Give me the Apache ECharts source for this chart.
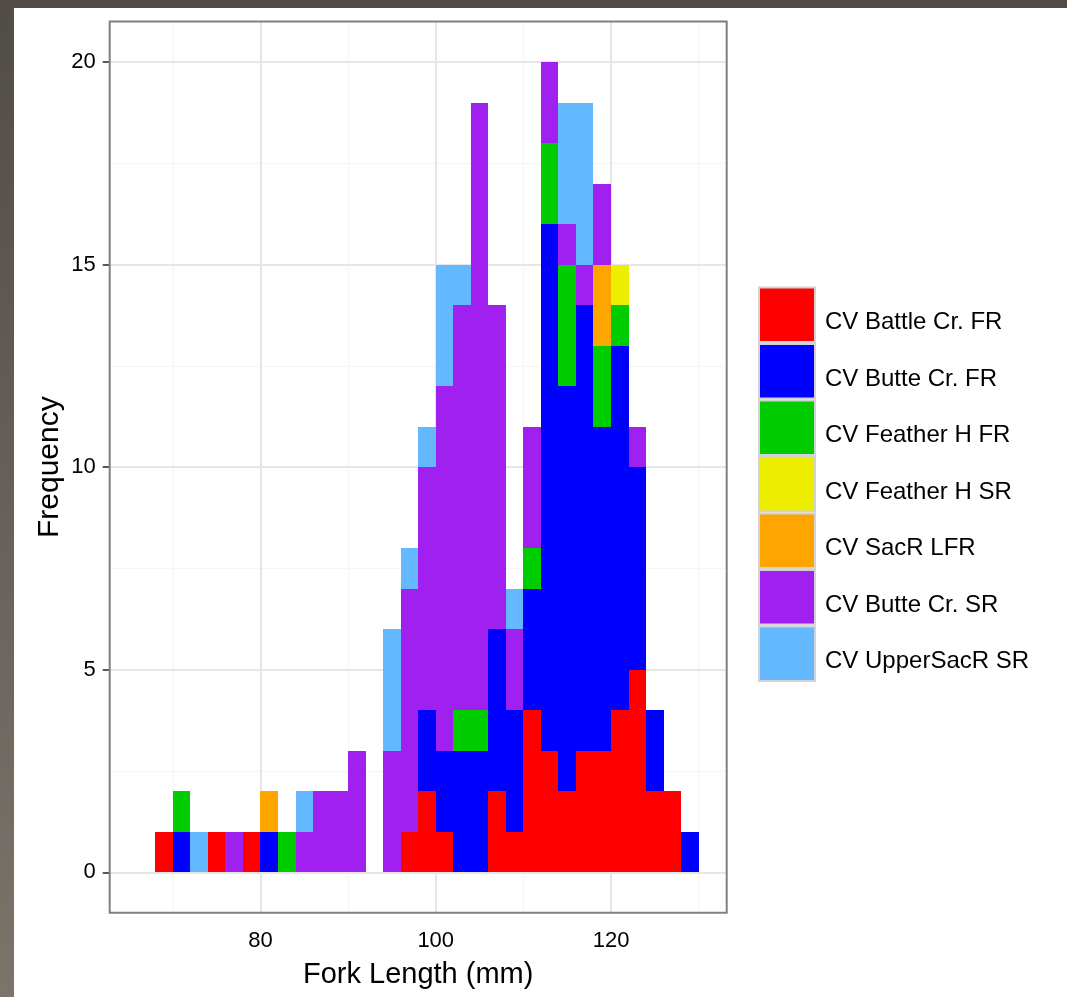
<!DOCTYPE html>
<html>
<head>
<meta charset="utf-8">
<script src="https://cdn.jsdelivr.net/npm/echarts@6/dist/echarts.min.js"></script>
<style>
  html, body { margin: 0; padding: 0; width: 1067px; height: 997px; overflow: hidden;
    background: linear-gradient(to bottom, #524c46, #7a746b); }
  #chart { position: absolute; left: 14px; top: 8px; width: 1053px; height: 989px; background: #ffffff; }
</style>
</head>
<body>
<div id="chart"></div>
<script>
// Fork-length histogram, 2 mm bins (bin start values)
const binStarts = [68, 70, 72, 74, 76, 78, 80, 82, 84, 86, 88, 90, 92, 94, 96, 98, 100,
                   102, 104, 106, 108, 110, 112, 114, 116, 118, 120, 122, 124, 126, 128];
const binWidth = 2;

// Counts per bin for each run / origin
const battleCrFR   = [1,0,0,1,0,1, 0,0,0,0,0,0,0,0, 1,2,1,0,0,2,1, 4,3,2,3,3,4,5,2,2,0];
const butteCrFR    = [0,1,0,0,0,0, 1,0,0,0,0,0,0,0, 0,2,2,3,3,4,3, 3,13,10,11,8,9,5,2,0,1];
const featherHFR   = [0,1,0,0,0,0, 0,1,0,0,0,0,0,0, 0,0,0,1,1,0,0, 1,2,3,0,2,1,0,0,0,0];
const featherHSR   = [0,0,0,0,0,0, 0,0,0,0,0,0,0,0, 0,0,0,0,0,0,0, 0,0,0,0,0,1,0,0,0,0];
const sacrLFR      = [0,0,0,0,0,0, 1,0,0,0,0,0,0,0, 0,0,0,0,0,0,0, 0,0,0,0,2,0,0,0,0,0];
const butteCrSR    = [0,0,0,0,1,0, 0,0,1,2,2,3,0,3, 6,6,9,10,15,8,2, 3,2,1,1,2,0,1,0,0,0];
const upperSacrSR  = [0,0,1,0,0,0, 0,0,1,0,0,0,0,3, 1,1,3,1,0,0,1, 0,0,3,4,0,0,0,0,0,0];

const groupNames  = ['CV Battle Cr. FR', 'CV Butte Cr. FR', 'CV Feather H FR', 'CV Feather H SR',
                     'CV SacR LFR', 'CV Butte Cr. SR', 'CV UpperSacR SR'];
const groupCounts = [battleCrFR, butteCrFR, featherHFR, featherHSR, sacrLFR, butteCrSR, upperSacrSR];
const groupColors = ['#FF0000', '#0000FF', '#00CD00', '#EEEE00', '#FFA500', '#A020F0', '#63B8FF'];

// Axis ticks and grid lines
const xTicks = [80, 100, 120];
const xMinorGrid = [70, 90, 110, 130];
const yTicks = [0, 5, 10, 15, 20];
const yMinorGrid = [2.5, 7.5, 12.5, 17.5];

// Stack groups bottom-up within each bin
const runningTop = binStarts.map(() => 0);
const stackedSeries = groupNames.map((name, g) => {
  const data = [];
  groupCounts[g].forEach((n, i) => {
    const base = runningTop[i];
    runningTop[i] += n;
    if (n > 0) data.push([binStarts[i], binStarts[i] + binWidth, base, base + n]);
  });
  return {
    name: name,
    type: 'custom',
    z: 10,
    itemStyle: { color: groupColors[g] },
    encode: { x: [0, 1], y: [2, 3] },
    renderItem: function (params, api) {
      const p0 = api.coord([api.value(0), api.value(3)]);
      const p1 = api.coord([api.value(1), api.value(2)]);
      const left = Math.round(p0[0]), right = Math.round(p1[0]);
      const top = Math.round(p0[1]), bottom = Math.round(p1[1]);
      return {
        type: 'rect',
        shape: { x: left, y: top, width: right - left, height: bottom - top },
        style: { fill: api.visual('color') }
      };
    },
    data: data
  };
});

const majorLine = { color: '#e6e6e6', width: 2, type: 'solid' };
const minorLine = { color: '#f5f5f5', width: 1.3, type: 'solid' };
const gridLines = []
  .concat(xMinorGrid.map(v => ({ xAxis: v, lineStyle: minorLine })))
  .concat(yMinorGrid.map(v => ({ yAxis: v, lineStyle: minorLine })))
  .concat(xTicks.map(v => ({ xAxis: v, lineStyle: majorLine })))
  .concat(yTicks.map(v => ({ yAxis: v, lineStyle: majorLine })));

const textFont = '"Liberation Sans", Arial, sans-serif';

const option = {
  animation: false,
  backgroundColor: '#ffffff',
  textStyle: { fontFamily: textFont },
  grid: {
    left: 95.7, top: 13.5, width: 617, height: 891.3,
    show: true, z: 20, backgroundColor: 'transparent',
    borderColor: '#7f7f7f', borderWidth: 2
  },
  xAxis: {
    type: 'value', min: 62.8, max: 133.2,
    name: 'Fork Length (mm)', nameLocation: 'middle', nameGap: 48,
    nameTextStyle: { fontSize: 29, color: '#000', fontFamily: textFont },
    axisLine: { show: false },
    axisTick: { show: true, length: 7, customValues: xTicks, lineStyle: { color: '#222', width: 1.5 } },
    axisLabel: { customValues: xTicks, margin: 17, fontSize: 22, color: '#000', fontFamily: textFont },
    splitLine: { show: false }
  },
  yAxis: {
    type: 'value', min: -1, max: 21,
    name: 'Frequency', nameLocation: 'middle', nameGap: 45, nameRotate: 90,
    nameMoveOverlap: false,
    nameTextStyle: { fontSize: 30, color: '#000', fontFamily: textFont },
    axisLine: { show: false },
    axisTick: { show: true, length: 7, customValues: yTicks, lineStyle: { color: '#222', width: 1.5 } },
    axisLabel: { customValues: yTicks, margin: 14, fontSize: 22, color: '#000', fontFamily: textFont },
    splitLine: { show: false }
  },
  legend: {
    orient: 'vertical', left: 744, top: 278.5, padding: 0,
    itemWidth: 56, itemHeight: 54.5, itemGap: 0,
    icon: 'rect',
    itemStyle: { borderColor: '#d3d3d3', borderWidth: 2 },
    // a spacer token sets the line box; the name sits at its lower edge
    formatter: '{s| }{t|{name}}',
    textStyle: {
      fontSize: 24, color: '#000', fontFamily: textFont,
      rich: {
        s: { width: 5, height: 40, lineHeight: 40, fontSize: 24 },
        t: { fontSize: 24, lineHeight: 24, color: '#000', fontFamily: textFont, verticalAlign: 'bottom' }
      }
    },
    selectedMode: false,
    data: groupNames
  },
  series: [{
    type: 'line',
    data: [],
    z: 1,
    silent: true,
    markLine: {
      z: 1,
      silent: true, symbol: ['none', 'none'], label: { show: false },
      animation: false, emphasis: { disabled: true },
      data: gridLines
    }
  }].concat(stackedSeries)
};

const chart = echarts.init(document.getElementById('chart'), null, { renderer: 'canvas' });
chart.setOption(option);
</script>
</body>
</html>
